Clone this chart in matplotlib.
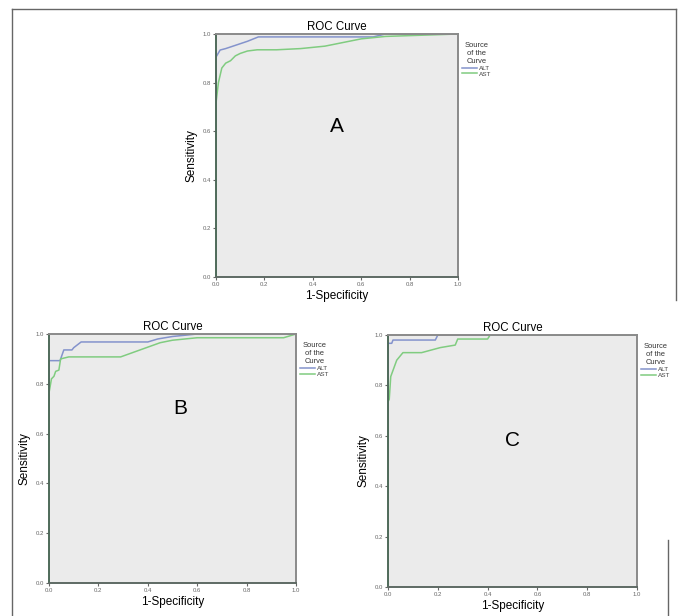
import matplotlib
matplotlib.use('Agg')
import matplotlib.pyplot as plt
import numpy as np
from matplotlib.lines import Line2D

plt.rcParams['font.family'] = ['Liberation Sans', 'DejaVu Sans']

# ROC curve points (1-specificity, sensitivity)
a_alt_x = [0, 0, 0.017, 0.04, 0.07, 0.10, 0.13, 0.175, 0.65, 0.70, 1.0]
a_alt_y = [0, 0.905, 0.934, 0.94, 0.95, 0.96, 0.97, 0.988, 0.988, 1.0, 1.0]
a_ast_x = [0, 0, 0.01, 0.024, 0.04, 0.06, 0.08, 0.10, 0.13, 0.17, 0.25, 0.35, 0.45, 0.5, 0.55, 0.6, 0.65, 0.7, 1.0]
a_ast_y = [0, 0.716, 0.80, 0.86, 0.88, 0.89, 0.91, 0.92, 0.93, 0.935, 0.935, 0.94, 0.95, 0.96, 0.97, 0.98, 0.985, 0.99, 1.0]

b_alt_x = [0, 0, 0.045, 0.05, 0.06, 0.093, 0.10, 0.13, 0.40, 0.44, 0.5, 0.6, 1.0]
b_alt_y = [0, 0.893, 0.893, 0.908, 0.936, 0.936, 0.945, 0.968, 0.968, 0.98, 0.99, 1.0, 1.0]
b_ast_x = [0, 0, 0.01, 0.02, 0.027, 0.04, 0.047, 0.08, 0.29, 0.45, 0.5, 0.6, 0.95, 1.0]
b_ast_y = [0, 0.763, 0.82, 0.83, 0.85, 0.855, 0.90, 0.908, 0.908, 0.965, 0.975, 0.985, 0.985, 1.0]

c_alt_x = [0, 0, 0.015, 0.02, 0.19, 0.20, 1.0]
c_alt_y = [0, 0.967, 0.967, 0.98, 0.98, 1.0, 1.0]
c_ast_x = [0, 0, 0.005, 0.011, 0.035, 0.06, 0.135, 0.21, 0.27, 0.28, 0.40, 0.41, 1.0]
c_ast_y = [0, 0.735, 0.745, 0.835, 0.90, 0.93, 0.93, 0.95, 0.96, 0.984, 0.984, 1.0, 1.0]

ticks = [0.0, 0.2, 0.4, 0.6, 0.8, 1.0]
tick_labels = ['0.0', '0.2', '0.4', '0.6', '0.8', '1.0']

alt_color = '#8493cc'
ast_color = '#80cc80'

W, H = 681, 616
fig = plt.figure(figsize=(W / 100, H / 100), dpi=100)

def px_axes(x0, y0, x1, y1):
    return fig.add_axes([x0 / W, 1 - y1 / H, (x1 - x0) / W, (y1 - y0) / H])

def roc_panel(ax, alt_x, alt_y, ast_x, ast_y, letter, lx, ly):
    ax.set_facecolor('#ebebeb')
    ax.plot(alt_x, alt_y, color=alt_color, lw=1.1, label='ALT')
    ax.plot(ast_x, ast_y, color=ast_color, lw=1.1, label='AST')
    ax.set_xlim(0, 1)
    ax.set_ylim(0, 1)
    ax.set_xticks(ticks)
    ax.set_yticks(ticks)
    ax.set_xticklabels(tick_labels)
    ax.set_yticklabels(tick_labels)
    ax.tick_params(labelsize=4.3, colors='#666666', length=2.5, width=0.8, pad=1)
    for s in ax.spines.values():
        s.set_color('#8a8a8a')
        s.set_linewidth(1.4)
    ax.spines['left'].set_color('#4f6a5a')
    ax.spines['bottom'].set_color('#5e6a64')
    ax.set_title('ROC Curve', fontsize=8.3, pad=3)
    ax.set_xlabel('1-Specificity', fontsize=8.5, labelpad=2)
    ax.set_ylabel('Sensitivity', fontsize=8.5, labelpad=4)
    ax.text(lx, ly, letter, fontsize=15, ha='center', va='center')
    leg = ax.legend(title='Source\nof the\nCurve', loc='upper left', bbox_to_anchor=(1.0, 0.985),
                    frameon=False, fontsize=4.6, title_fontsize=5.4, handlelength=2.3,
                    handletextpad=0.3, labelspacing=0.05, borderaxespad=0.3)
    leg.get_title().set_color('#333333')
    leg.get_title().set_multialignment('center')
    for t in leg.get_texts():
        t.set_color('#444444')

ax_a = px_axes(216, 34, 458, 277)
roc_panel(ax_a, a_alt_x, a_alt_y, a_ast_x, a_ast_y, 'A', 0.5, 0.62)

ax_b = px_axes(49, 334, 296, 583)
roc_panel(ax_b, b_alt_x, b_alt_y, b_ast_x, b_ast_y, 'B', 0.53, 0.7)

ax_c = px_axes(388, 335, 637, 587)
roc_panel(ax_c, c_alt_x, c_alt_y, c_ast_x, c_ast_y, 'C', 0.5, 0.58)

# outer frame of the composite figure
frame = '#666666'
fig.add_artist(Line2D([12 / W, 12 / W], [0, 1 - 9 / H], color=frame, lw=1))
fig.add_artist(Line2D([12 / W, 676 / W], [1 - 9 / H, 1 - 9 / H], color=frame, lw=1))
fig.add_artist(Line2D([676 / W, 676 / W], [1 - 9 / H, 1 - 300 / H], color=frame, lw=1))
fig.add_artist(Line2D([668 / W, 668 / W], [1 - 540 / H, 0], color=frame, lw=1))

plt.savefig('out.png', dpi=100)
